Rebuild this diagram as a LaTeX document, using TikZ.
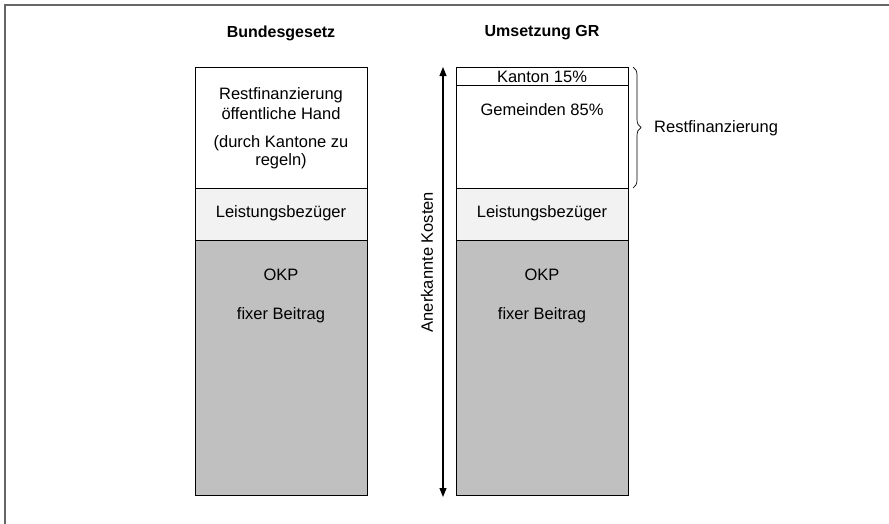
\documentclass[tikz,border=0pt]{standalone}
\usepackage{fontspec}
\setmainfont{Liberation Sans}
\usetikzlibrary{decorations.pathreplacing,arrows.meta}
\definecolor{lightseg}{HTML}{F2F2F2}
\definecolor{darkseg}{HTML}{C0C0C0}
\definecolor{framegray}{HTML}{666666}
\begin{document}
\begin{tikzpicture}[x=1pt,y=-1pt,
  seg/.style={draw=black, line width=1.2pt, minimum width=172pt, inner sep=0pt, anchor=north west},
  txt/.style={font=\fontsize{16.5}{19}\selectfont, inner sep=0pt, align=center},
  ttl/.style={font=\fontsize{16}{19}\selectfont\bfseries, inner sep=0pt}]
\useasboundingbox (0,0) rectangle (889,523);
\draw[framegray, line width=2pt] (5,530) -- (5,5) -- (895,5);
% titles
\node[ttl] (t1) at (281,33) {Bundesgesetz};
\node[ttl] (t2) at (542,33) {Umsetzung GR};
% left column
\node[seg, fill=white, minimum height=121pt] (lrest) at (195,67) {};
\node[seg, fill=lightseg, minimum height=52pt] (lleist) at (195,188) {};
\node[seg, fill=darkseg, minimum height=255pt] (lokp) at (195,240) {};
\node[txt] (lrt1) at (281,95) {Restfinanzierung};
\node[txt] (lrt2) at (281,114) {öffentliche Hand};
\node[txt] (lrt3) at (281,143) {(durch Kantone zu};
\node[txt] (lrt4) at (281,161) {regeln)};
\node[txt] (llt) at (281,213) {Leistungsbezüger};
\node[txt] (lot1) at (281,275) {OKP};
\node[txt] (lot2) at (281,315) {fixer Beitrag};
% right column
\node[seg, fill=white, minimum height=18pt] (rkan) at (456,67) {};
\node[seg, fill=white, minimum height=103pt] (rgem) at (456,85) {};
\node[seg, fill=lightseg, minimum height=52pt] (rleist) at (456,188) {};
\node[seg, fill=darkseg, minimum height=255pt] (rokp) at (456,240) {};
\node[txt] (rkt) at (542,77) {Kanton 15\%};
\node[txt] (rgt) at (542,110) {Gemeinden 85\%};
\node[txt] (rlt) at (542,213) {Leistungsbezüger};
\node[txt] (rot1) at (542,275) {OKP};
\node[txt] (rot2) at (542,315) {fixer Beitrag};
% arrow
\coordinate (atop) at (443,67);
\coordinate (abot) at (443,497);
\draw[line width=1.1pt, {Triangle[length=9pt,width=7pt]}-{Triangle[length=9pt,width=7pt]}] (atop) -- (abot);
\node[txt, rotate=90] (ak) at (427,262) {Anerkannte Kosten};
% brace
\coordinate (btop) at (633,67);
\coordinate (bbot) at (633,188);
\draw[line width=0.7pt, decorate, decoration={brace, amplitude=8pt}] (btop) -- (bbot);
\node[txt, anchor=west] (rf) at (654,128) {Restfinanzierung};
\end{tikzpicture}
\end{document}
